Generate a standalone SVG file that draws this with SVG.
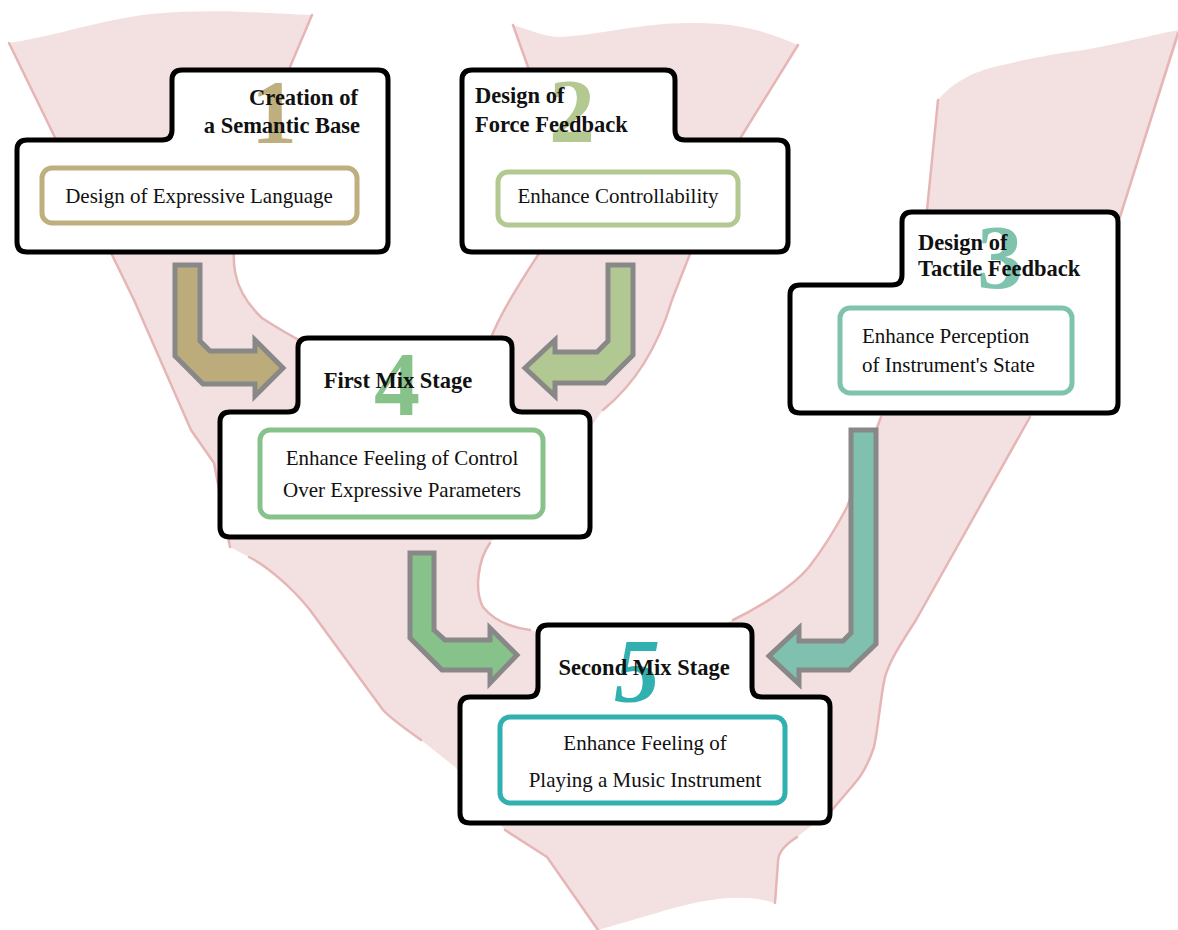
<svg xmlns="http://www.w3.org/2000/svg" width="1178" height="930" viewBox="0 0 1178 930">
<style>
.bg{fill:#f3e0e1;stroke:none}
.edge{fill:none;stroke:#e6b6b6;stroke-width:2.5;stroke-linejoin:round;stroke-linecap:round}
.box{fill:#ffffff;stroke:#000000;stroke-width:5;stroke-linejoin:round}
.inner{fill:#ffffff;stroke-width:5}
.arrow{stroke:#888888;stroke-width:5;stroke-linejoin:miter}
.title{font-family:"Liberation Serif",serif;font-weight:bold;font-size:22.5px;fill:#111111}
.body{font-family:"Liberation Serif",serif;font-size:21px;fill:#111111}
.num{font-family:"Liberation Serif",serif;font-weight:bold;font-size:92px;text-anchor:middle}
</style>
<rect width="1178" height="930" fill="#ffffff"/>
<g id="background">
<path class="bg" d="M9,43 C60,35 100,20 150,14 C220,8 270,14 312,15 L276,100 L240,215 C228,260 232,290 262,318 C280,330 295,338 310,346 L400,365 L490,340 C500,315 515,290 540,252 L528,67 L513,25 C530,30 545,37 560,37 C600,35 640,23 690,23 C740,22 770,33 798,45 L741,137 C715,190 695,240 672,300 C660,340 640,380 603,410 L560,470 L490,543 C478,560 474,590 483,607 C495,622 515,628 530,630 L640,660 L733,620 C750,612 790,590 809,567 C830,540 840,520 847,507 L881,417 L927,210 L938,100 C955,80 975,72 994,67 C1030,58 1060,53 1084,50 C1120,44 1150,35 1180,30 L1180,33 L1120,217 L1030,417 L916,620 C900,645 890,660 885,677 C880,700 878,730 874,747 C868,765 862,775 855,783 L832,810 L797,837 C785,845 778,852 778,862 L775,903 C740,892 700,900 660,912 L598,930 L547,857 L505,830 L455,767 L421,740 C400,725 390,718 383,710 L310,610 C290,585 265,565 249,557 L230,547 L214,463 L191,430 L134,300 Z"/>
<path class="edge" d="M9,43 L134,300 L191,430 L214,463 L230,547 M249,557 C265,565 290,585 310,610 L383,710 C390,718 400,725 421,740 M505,830 L547,857 L598,930"/>
<path class="edge" d="M312,15 L276,100 L240,215 C228,260 232,290 262,318 C280,330 295,338 310,346"/>
<path class="edge" d="M490,340 C500,315 515,290 540,252 L528,67 L513,25"/>
<path class="edge" d="M798,45 L741,137 C715,190 695,240 672,300 C660,340 640,380 603,410 M490,543 C478,560 474,590 483,607 C495,622 515,628 530,630"/>
<path class="edge" d="M733,620 C750,612 790,590 809,567 C830,540 840,520 847,507 L881,417 M927,210 L938,100"/>
<path class="edge" d="M1178,33 L1120,217 M1030,417 L916,620 C900,645 890,660 885,677 C880,700 878,730 874,747 C868,765 862,775 855,783 L832,810 M797,837 C785,845 778,852 778,862 L775,903"/>
</g>
<g id="connectors">
<path class="arrow" fill="#bcac7c" d="M175,265 H200 V341 L210,351 H255 V340 L283,368 L255,396 V384 H203 L175,356 Z"/>
<path class="arrow" fill="#b2c892" d="M608,265 H633 V355 L605,383 H555 V396 L525,368 L555,340 V352 H597 L608,341 Z"/>
<path class="arrow" fill="#86c28a" d="M410,553 H434 V630 L445,640 H490 V628 L517,655 L490,683 V670 H442 L410,638 Z"/>
<path class="arrow" fill="#7fc1ae" d="M851,430 H876 V644 L849,670 H799 V684 L769,656 L799,628 V641 H843 L851,633 Z"/>
</g>
<g id="node1">
<path class="box" d="M17,150 Q17,140 27,140 H162 Q172,140 172,130 V80 Q172,70 182,70 H378 Q388,70 388,80 V242 Q388,252 378,252 H27 Q17,252 17,242 Z"/>
<text class="num" x="274" y="143" fill="#bfae7e">1</text>
<rect class="inner" x="42" y="168" width="315" height="55" rx="10" stroke="#bfae7e"/>
<text class="title" x="358" y="105" text-anchor="end">Creation of</text>
<text class="title" x="360" y="133" text-anchor="end">a Semantic Base</text>
<text class="body" x="199" y="203" text-anchor="middle">Design of Expressive Language</text>
</g>
<g id="node2">
<path class="box" d="M462,80 Q462,70 472,70 H665 Q675,70 675,80 V130 Q675,140 685,140 H778 Q788,140 788,150 V242 Q788,252 778,252 H472 Q462,252 462,242 Z"/>
<text class="num" x="572" y="142" fill="#b4c891">2</text>
<rect class="inner" x="498" y="172" width="240" height="53" rx="10" stroke="#b4c891"/>
<text class="title" x="475" y="103">Design of</text>
<text class="title" x="475" y="132">Force Feedback</text>
<text class="body" x="618" y="203" text-anchor="middle">Enhance Controllability</text>
</g>
<g id="node3">
<path class="box" d="M790,295 Q790,285 800,285 H892 Q902,285 902,275 V222 Q902,212 912,212 H1108 Q1118,212 1118,222 V403 Q1118,413 1108,413 H800 Q790,413 790,403 Z"/>
<text class="num" x="1000" y="288" fill="#7fc3ae">3</text>
<rect class="inner" x="840" y="308" width="232" height="85" rx="10" stroke="#7fc3ae"/>
<text class="title" x="918" y="250">Design of</text>
<text class="title" x="918" y="276">Tactile Feedback</text>
<text class="body" x="862" y="343">Enhance Perception</text>
<text class="body" x="862" y="372">of Instrument's State</text>
</g>
<g id="node4">
<path class="box" d="M220,422 Q220,412 230,412 H288 Q298,412 298,402 V348 Q298,338 308,338 H502 Q512,338 512,348 V402 Q512,412 522,412 H580 Q590,412 590,422 V527 Q590,537 580,537 H230 Q220,537 220,527 Z"/>
<text class="num" x="397" y="415" fill="#86c28a">4</text>
<rect class="inner" x="260" y="430" width="283" height="87" rx="10" stroke="#86c28a"/>
<text class="title" x="398" y="388" text-anchor="middle">First Mix Stage</text>
<text class="body" x="402" y="465" text-anchor="middle">Enhance Feeling of Control</text>
<text class="body" x="402" y="497" text-anchor="middle">Over Expressive Parameters</text>
</g>
<g id="node5">
<path class="box" d="M460,707 Q460,697 470,697 H528 Q538,697 538,687 V635 Q538,625 548,625 H742 Q752,625 752,635 V687 Q752,697 762,697 H820 Q830,697 830,707 V813 Q830,823 820,823 H470 Q460,823 460,813 Z"/>
<text class="num" x="637" y="702" fill="#30b0ae" font-style="italic">5</text>
<rect class="inner" x="500" y="717" width="285" height="86" rx="10" stroke="#30b0ae"/>
<text class="title" x="644" y="675" text-anchor="middle">Second Mix Stage</text>
<text class="body" x="645" y="750" text-anchor="middle">Enhance Feeling of</text>
<text class="body" x="645" y="787" text-anchor="middle">Playing a Music Instrument</text>
</g>
</svg>
